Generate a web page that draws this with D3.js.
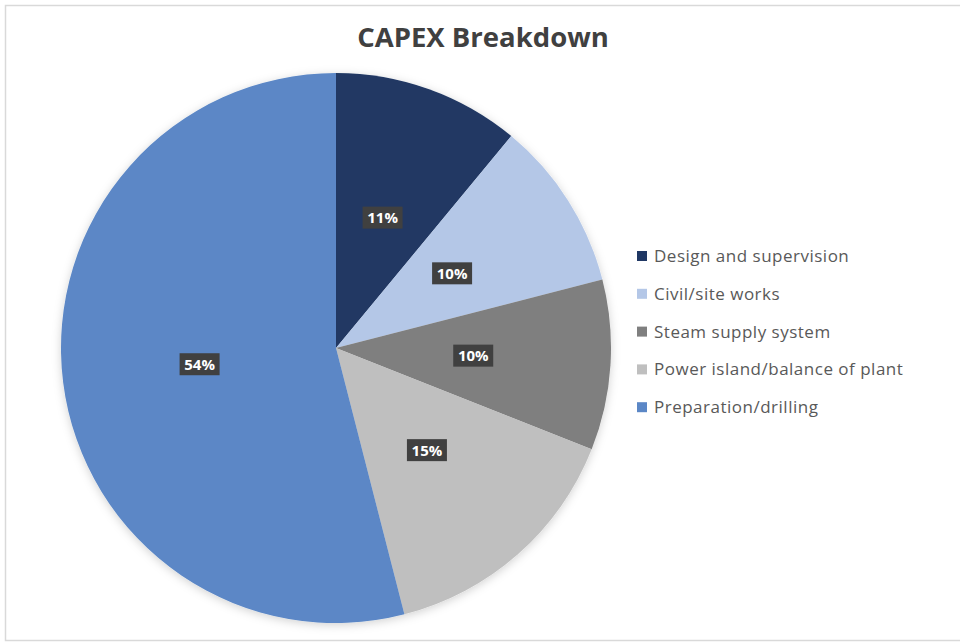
<!DOCTYPE html>
<html lang="en">
<head>
    <meta charset="UTF-8">
    <title>CAPEX Breakdown</title>
    <style>
        body {
            margin: 0;
            padding: 0;
            background-color: #fff;
            font-family: 'Open Sans', 'Noto Sans', sans-serif;
        }
        svg {
            display: block;
        }
        .label-text {
            font-weight: bold;
            fill: #fff;
        }
        .legend-text {
            fill: #595959;
            letter-spacing: 0.5px;
        }
    </style>
    <script src="https://d3js.org/d3.v7.min.js"></script>
</head>
<body>
    <div id="chart"></div>

    <script>
        const categories = ["Design and supervision", "Civil/site works", "Steam supply system",
            "Power island/balance of plant", "Preparation/drilling"];
        const shares = [11, 10, 10, 15, 54];
        const colors = ["#203864", "#b4c7e7", "#7f7f7f", "#bfbfbf", "#5b87c6"];
        const title = "CAPEX Breakdown";

        const width = 960;
        const height = 644;
        const cx = 336;
        const cy = 348;
        const radius = 275;

        const svg = d3.select("#chart").append("svg")
            .attr("width", width)
            .attr("height", height);

        // chart frame
        svg.append("rect")
            .attr("x", 5.5)
            .attr("y", 5.5)
            .attr("width", width)
            .attr("height", 635)
            .attr("fill", "#fff")
            .attr("stroke", "#d9d9d9")
            .attr("stroke-width", 1.5);

        svg.append("text")
            .attr("x", 483)
            .attr("y", 47)
            .attr("text-anchor", "middle")
            .attr("font-size", "27.5px")
            .attr("font-weight", "bold")
            .attr("fill", "#404040")
            .text(title);

        const defs = svg.append("defs");
        const shadow = defs.append("filter")
            .attr("id", "shadow")
            .attr("x", "-10%").attr("y", "-10%")
            .attr("width", "120%").attr("height", "120%");
        shadow.append("feDropShadow")
            .attr("dx", 0).attr("dy", 2)
            .attr("stdDeviation", 5)
            .attr("flood-color", "#000")
            .attr("flood-opacity", 0.18);

        const color = d3.scaleOrdinal().domain(categories).range(colors);

        const pie = d3.pie().sort(null).value(d => d.value);
        const data = categories.map((c, i) => ({ name: c, value: shares[i] }));
        const arcs = pie(data);

        const arc = d3.arc().innerRadius(0).outerRadius(radius);
        const labelArc = d3.arc().innerRadius(radius * 0.5).outerRadius(radius * 0.5);

        const g = svg.append("g")
            .attr("transform", `translate(${cx},${cy})`);

        g.append("g")
            .attr("filter", "url(#shadow)")
            .selectAll("path")
            .data(arcs)
            .enter()
            .append("path")
            .attr("d", arc)
            .attr("fill", d => color(d.data.name));

        const total = d3.sum(shares);
        const labels = g.selectAll("g.label")
            .data(arcs)
            .enter()
            .append("g")
            .attr("class", "label")
            .attr("transform", d => `translate(${labelArc.centroid(d)})`);

        labels.append("rect")
            .attr("x", -20)
            .attr("y", -12)
            .attr("width", 40)
            .attr("height", 22)
            .attr("fill", "#404040");

        labels.append("text")
            .attr("class", "label-text")
            .attr("text-anchor", "middle")
            .attr("dy", "0.3em")
            .attr("font-size", "15px")
            .text(d => Math.round(d.data.value / total * 100) + "%");

        // legend
        const legend = svg.append("g")
            .attr("transform", "translate(637,256)");

        const item = legend.selectAll("g")
            .data(categories)
            .enter()
            .append("g")
            .attr("transform", (d, i) => `translate(0,${i * 37.8})`);

        item.append("rect")
            .attr("x", 0)
            .attr("y", -5)
            .attr("width", 10)
            .attr("height", 10)
            .attr("fill", d => color(d));

        item.append("text")
            .attr("class", "legend-text")
            .attr("x", 17)
            .attr("dy", "0.35em")
            .attr("font-size", "17px")
            .text(d => d);
    </script>
</body>
</html>
